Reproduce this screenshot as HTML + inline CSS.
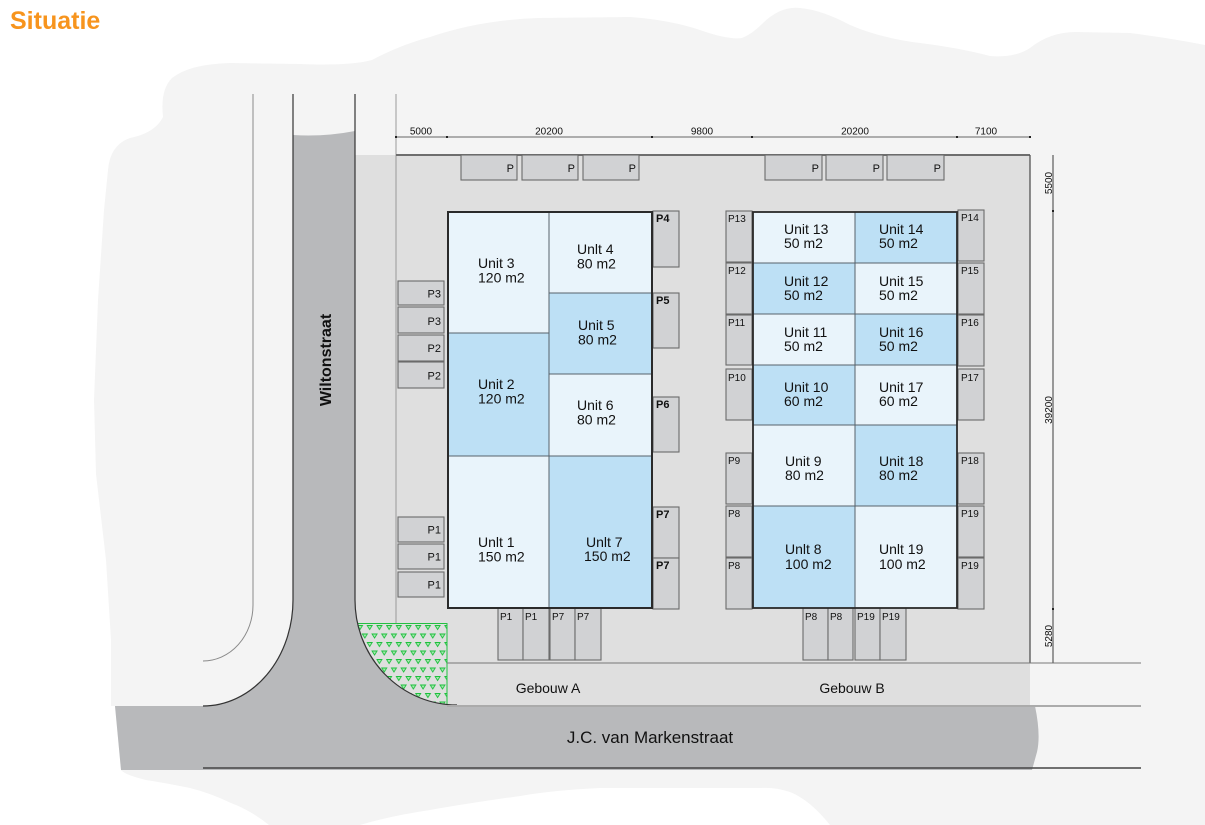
<!DOCTYPE html>
<html><head><meta charset="utf-8"><style>
html,body{margin:0;padding:0;background:#fff;}
svg{display:block;}
text{font-family:"Liberation Sans",Arial,sans-serif;fill:#111;}
.u{font-size:14px;}
.p{font-size:11px;}
.ps{font-size:10px;}
.b{font-weight:bold;}
.d{font-size:10px;}
.pk{fill:#d1d2d4;stroke:#6b6b6b;stroke-width:1.1;}
.L{fill:#e9f4fb;}
.B{fill:#bde0f5;}
</style></head><body>
<svg width="1205" height="825" viewBox="0 0 1205 825" xmlns="http://www.w3.org/2000/svg">
<defs>
<pattern id="h" width="9.7" height="17" patternUnits="userSpaceOnUse" x="357" y="625">
<path d="M0.5,0.5 L5.5,0.5 L3,4.5 Z M5.35,9 L10.35,9 L7.85,13 Z M-4.35,9 L0.65,9 L-1.85,13 Z" fill="#a6e8b0" stroke="#1cbf3c" stroke-width="0.9"/>
</pattern>
</defs>
<rect width="1205" height="825" fill="#fff"/>
<text x="10" y="29" style="font-size:25px;font-weight:bold;fill:#f7941d;">Situatie</text>

<!-- blob -->
<path fill="#f4f4f4" d="M111,706 L111,640 L106,560 L96,474 L94,400 L98,300 L104,210 L108,170 Q110,145 130,138 Q155,133 163,117 Q160,90 172,78 Q190,64 230,63 L300,64 Q350,66 372,60 Q400,45 430,37 Q480,20 538,18 L630,17 Q670,20 700,30 Q728,40 742,38 Q752,34 762,24 Q780,6 800,8 Q822,10 850,25 Q880,38 920,43 Q960,48 990,56 Q1015,58 1030,48 Q1050,32 1076,32 L1130,33 Q1170,38 1205,45 L1205,825 L830,825 Q810,800 790,792 Q775,787 761,788 L600,788 Q555,790 520,796 Q470,803 430,810 Q390,816 360,825 L269,825 Q250,810 231,803 Q210,793 190,788 Q160,782 146,780 Q125,775 121,770 L115,706 Z"/>

<!-- plot gray -->
<rect x="355" y="155" width="675" height="508" fill="#dfdfdf"/>
<rect x="447" y="663" width="583" height="43" fill="#dfdfdf"/>
<!-- hatch -->
<rect x="355" y="623" width="92" height="83" fill="#dfdfdf"/>
<rect x="355" y="623" width="92" height="83" fill="url(#h)"/>
<path d="M355,623.5 L447,623.5 L447,706" fill="none" stroke="#22c040" stroke-width="1"/>

<!-- road -->
<path fill="#b8b9bb" d="M293,135 Q324,137 355,131 L355,600 A102,105 0 0 0 457,705 L1035,706 Q1041,735 1037,752 L1032,770 L121,770 L115,706 L203,706 A90,106 0 0 0 293,600 Z"/>

<!-- lines -->
<path d="M293,94 L293,600 A90,106 0 0 1 203,706" fill="none" stroke="#333" stroke-width="1.2"/>
<path d="M355,94 L355,600 A102,105 0 0 0 457,705" fill="none" stroke="#333" stroke-width="1.2"/>
<path d="M253,94 L253,605 A50,56 0 0 1 203,661" fill="none" stroke="#8a8a8a" stroke-width="1"/>
<line x1="396" y1="94" x2="396" y2="623" stroke="#9a9a9a" stroke-width="1"/>
<line x1="396" y1="155" x2="1030" y2="155" stroke="#6e6e6e" stroke-width="2"/>
<line x1="1030" y1="155" x2="1030" y2="663" stroke="#555" stroke-width="1.3"/>
<line x1="447" y1="663" x2="1141" y2="663" stroke="#777" stroke-width="1"/>
<line x1="447" y1="706" x2="1141" y2="706" stroke="#ababab" stroke-width="2"/>
<line x1="203" y1="768" x2="1141" y2="768" stroke="#444" stroke-width="1.5"/>

<!-- top dimension -->
<line x1="396" y1="137" x2="1030" y2="137" stroke="#666" stroke-width="1"/>
<g fill="#222">
<rect x="395" y="136" width="2" height="2"/><rect x="446" y="136" width="2" height="2"/><rect x="651" y="136" width="2" height="2"/>
<rect x="751" y="136" width="2" height="2"/><rect x="956" y="136" width="2" height="2"/><rect x="1029" y="136" width="2" height="2"/>
</g>
<g class="d" text-anchor="middle">
<text x="421" y="134.5">5000</text>
<text x="549" y="134.5">20200</text>
<text x="702" y="134.5">9800</text>
<text x="855" y="134.5">20200</text>
<text x="986" y="134.5">7100</text>
</g>
<!-- right dimension -->
<line x1="1053" y1="155" x2="1053" y2="663" stroke="#666" stroke-width="1.3"/>
<rect x="1052" y="210" width="2" height="2" fill="#222"/>
<rect x="1052" y="608" width="2" height="2" fill="#222"/>
<g class="d" text-anchor="middle">
<text transform="translate(1052,183) rotate(-90)">5500</text>
<text transform="translate(1052,410) rotate(-90)">39200</text>
<text transform="translate(1052,636) rotate(-90)">5280</text>
</g>

<!-- top parking -->
<g class="pk">
<rect x="461" y="155" width="56" height="25"/><rect x="522" y="155" width="56" height="25"/><rect x="583" y="155" width="56" height="25"/>
<rect x="765" y="155" width="57" height="25"/><rect x="826" y="155" width="57" height="25"/><rect x="887" y="155" width="57" height="25"/>
</g>
<g class="p" text-anchor="end">
<text x="514" y="172">P</text><text x="575" y="172">P</text><text x="636" y="172">P</text>
<text x="819" y="172">P</text><text x="880" y="172">P</text><text x="941" y="172">P</text>
</g>

<!-- left parking A -->
<g class="pk">
<rect x="398" y="281" width="46" height="24"/><rect x="398" y="307" width="46" height="26"/>
<rect x="398" y="335" width="46" height="26"/><rect x="398" y="362" width="46" height="26"/>
<rect x="398" y="517" width="46" height="25"/><rect x="398" y="544" width="46" height="25"/><rect x="398" y="572" width="46" height="25"/>
</g>
<g class="p" text-anchor="end">
<text x="441" y="297.5">P3</text><text x="441" y="325">P3</text><text x="441" y="352">P2</text><text x="441" y="379.5">P2</text>
<text x="441" y="533.5">P1</text><text x="441" y="560.5">P1</text><text x="441" y="588.5">P1</text>
</g>

<!-- right parking A -->
<g class="pk">
<rect x="653" y="211" width="26" height="56"/><rect x="653" y="293" width="26" height="55"/>
<rect x="653" y="397" width="26" height="55"/><rect x="653" y="507" width="26" height="51"/><rect x="653" y="558" width="26" height="51"/>
</g>
<g class="p b">
<text x="656" y="222">P4</text><text x="656" y="304">P5</text><text x="656" y="408">P6</text>
<text x="656" y="518">P7</text><text x="656" y="569">P7</text>
</g>

<!-- bottom parking A -->
<g class="pk">
<rect x="498" y="608" width="25" height="52"/><rect x="523" y="608" width="26" height="52"/>
<rect x="550" y="608" width="25" height="52"/><rect x="575" y="608" width="26" height="52"/>
</g>
<g class="ps">
<text x="500" y="620">P1</text><text x="525" y="620">P1</text><text x="552" y="620">P7</text><text x="577" y="620">P7</text>
</g>

<!-- Gebouw A -->
<rect x="448" y="212" width="101" height="121" class="L"/>
<rect x="448" y="333" width="101" height="123" class="B"/>
<rect x="448" y="456" width="101" height="152" class="L"/>
<rect x="549" y="212" width="103" height="81" class="L"/>
<rect x="549" y="293" width="103" height="81" class="B"/>
<rect x="549" y="374" width="103" height="82" class="L"/>
<rect x="549" y="456" width="103" height="152" class="B"/>
<g stroke="#56626b" stroke-width="1" fill="none">
<line x1="549" y1="212" x2="549" y2="608"/>
<line x1="448" y1="333" x2="549" y2="333"/>
<line x1="448" y1="456" x2="652" y2="456"/>
<line x1="549" y1="293" x2="652" y2="293"/>
<line x1="549" y1="374" x2="652" y2="374"/>
</g>
<rect x="448" y="212" width="204" height="396" fill="none" stroke="#2a2a2a" stroke-width="2"/>
<g class="u">
<text x="478" y="268">Unit 3</text><text x="478" y="282.5">120 m2</text>
<text x="478" y="389">Unit 2</text><text x="478" y="403.5">120 m2</text>
<text x="478" y="547">Unlt 1</text><text x="478" y="561.5">150 m2</text>
<text x="577" y="254">Unlt 4</text><text x="577" y="268.5">80 m2</text>
<text x="578" y="330">Unit 5</text><text x="578" y="344.5">80 m2</text>
<text x="577" y="410">Unit 6</text><text x="577" y="424.5">80 m2</text>
<text x="586" y="547">Unlt 7</text><text x="584" y="561">150 m2</text>
</g>

<!-- left parking B -->
<g class="pk">
<rect x="726" y="211" width="26" height="51"/><rect x="726" y="263" width="26" height="51"/>
<rect x="726" y="315" width="26" height="50"/><rect x="726" y="369" width="26" height="51"/>
<rect x="726" y="453" width="26" height="51"/><rect x="726" y="506" width="26" height="51"/><rect x="726" y="558" width="26" height="51"/>
</g>
<g class="ps">
<text x="728" y="222">P13</text><text x="728" y="274">P12</text><text x="728" y="326">P11</text><text x="728" y="381">P10</text>
<text x="728" y="464">P9</text><text x="728" y="517">P8</text><text x="728" y="569">P8</text>
</g>
<!-- right parking B -->
<g class="pk">
<rect x="958" y="210" width="26" height="51"/><rect x="958" y="263" width="26" height="51"/>
<rect x="958" y="315" width="26" height="51"/><rect x="958" y="369" width="26" height="51"/>
<rect x="958" y="453" width="26" height="51"/><rect x="958" y="506" width="26" height="51"/><rect x="958" y="558" width="26" height="51"/>
</g>
<g class="ps">
<text x="961" y="221">P14</text><text x="961" y="274">P15</text><text x="961" y="326">P16</text><text x="961" y="381">P17</text>
<text x="961" y="464">P18</text><text x="961" y="517">P19</text><text x="961" y="569">P19</text>
</g>
<!-- bottom parking B -->
<g class="pk">
<rect x="803" y="608" width="25" height="52"/><rect x="828" y="608" width="25" height="52"/>
<rect x="855" y="608" width="25" height="52"/><rect x="880" y="608" width="26" height="52"/>
</g>
<g class="ps">
<text x="805" y="620">P8</text><text x="830" y="620">P8</text><text x="857" y="620">P19</text><text x="882" y="620">P19</text>
</g>

<!-- Gebouw B -->
<rect x="753" y="212" width="102" height="51" class="L"/>
<rect x="855" y="212" width="102" height="51" class="B"/>
<rect x="753" y="263" width="102" height="51" class="B"/>
<rect x="855" y="263" width="102" height="51" class="L"/>
<rect x="753" y="314" width="102" height="51" class="L"/>
<rect x="855" y="314" width="102" height="51" class="B"/>
<rect x="753" y="365" width="102" height="60" class="B"/>
<rect x="855" y="365" width="102" height="60" class="L"/>
<rect x="753" y="425" width="102" height="81" class="L"/>
<rect x="855" y="425" width="102" height="81" class="B"/>
<rect x="753" y="506" width="102" height="102" class="B"/>
<rect x="855" y="506" width="102" height="102" class="L"/>
<g stroke="#56626b" stroke-width="1" fill="none">
<line x1="855" y1="212" x2="855" y2="608"/>
<line x1="753" y1="263" x2="957" y2="263"/>
<line x1="753" y1="314" x2="957" y2="314"/>
<line x1="753" y1="365" x2="957" y2="365"/>
<line x1="753" y1="425" x2="957" y2="425"/>
<line x1="753" y1="506" x2="957" y2="506"/>
</g>
<rect x="753" y="212" width="204" height="396" fill="none" stroke="#2a2a2a" stroke-width="1.8"/>
<g class="u">
<text x="784" y="234">Unit 13</text><text x="784" y="248">50 m2</text>
<text x="879" y="234">Unit 14</text><text x="879" y="248">50 m2</text>
<text x="784" y="286">Unit 12</text><text x="784" y="300">50 m2</text>
<text x="879" y="286">Unit 15</text><text x="879" y="300">50 m2</text>
<text x="784" y="337">Unit 11</text><text x="784" y="351">50 m2</text>
<text x="879" y="337">Unit 16</text><text x="879" y="351">50 m2</text>
<text x="784" y="392">Unit 10</text><text x="784" y="406">60 m2</text>
<text x="879" y="392">Unit 17</text><text x="879" y="406">60 m2</text>
<text x="785" y="466">Unit 9</text><text x="785" y="480">80 m2</text>
<text x="879" y="466">Unit 18</text><text x="879" y="480">80 m2</text>
<text x="785" y="554">Unlt 8</text><text x="785" y="569">100 m2</text>
<text x="879" y="554">Unlt 19</text><text x="879" y="569">100 m2</text>
</g>

<!-- labels -->
<text x="548" y="693" text-anchor="middle" style="font-size:14px;">Gebouw A</text>
<text x="852" y="693" text-anchor="middle" style="font-size:14px;">Gebouw B</text>
<text x="650" y="743" text-anchor="middle" style="font-size:17px;">J.C. van Markenstraat</text>
<text transform="translate(331,360) rotate(-90)" text-anchor="middle" style="font-size:16px;font-weight:bold;">Wiltonstraat</text>
</svg>
</body></html>
